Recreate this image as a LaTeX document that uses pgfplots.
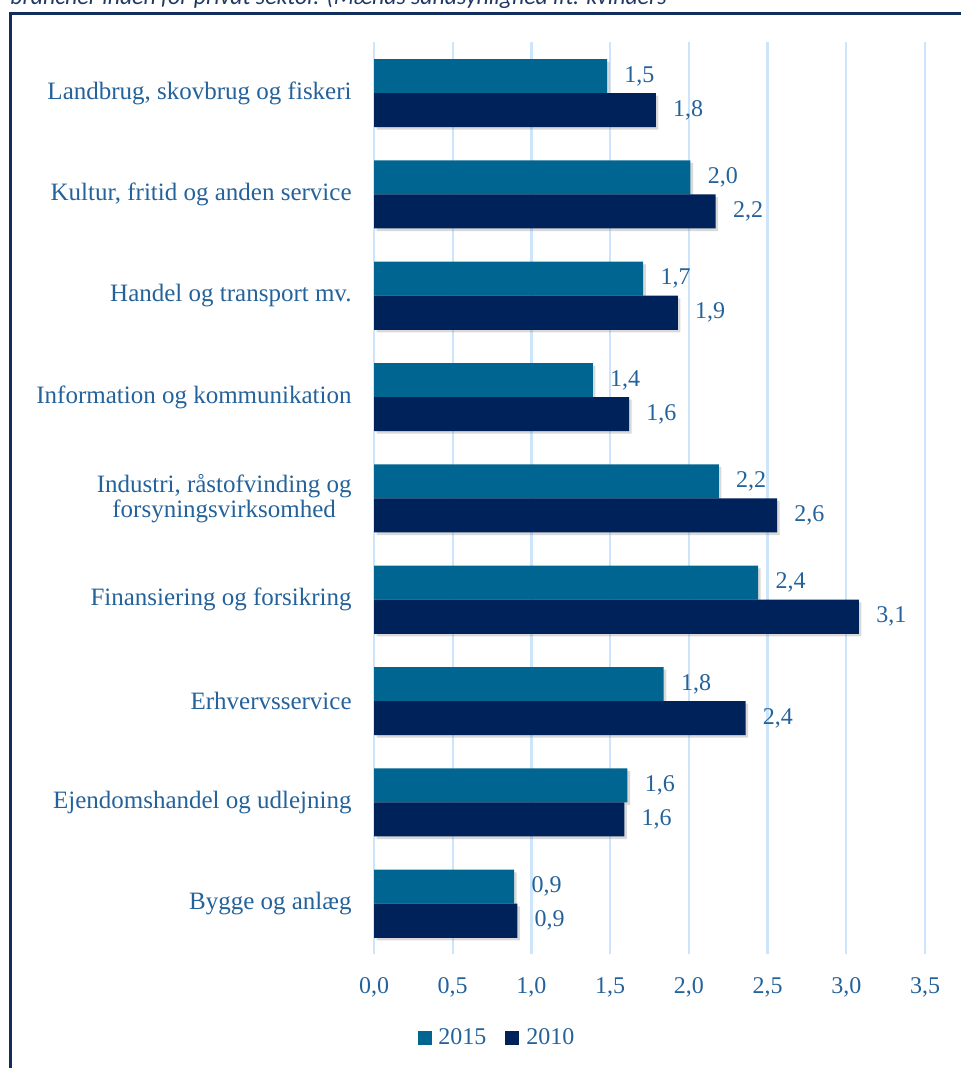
\documentclass[border=0pt]{standalone}
\usepackage{fontspec}
\setmainfont{Liberation Serif}
\newfontfamily\capfont{Carlito}
\usepackage{pgfplots}
\pgfplotsset{compat=1.18}
\usetikzlibrary{shadows}
\definecolor{tealc}{RGB}{0,102,145}
\definecolor{navyc}{RGB}{0,34,90}
\definecolor{txt}{RGB}{36,98,155}
\definecolor{gridc}{RGB}{204,229,250}
\definecolor{framec}{RGB}{16,45,92}
\definecolor{capc}{RGB}{31,56,100}
\begin{document}
\begin{tikzpicture}
\useasboundingbox (0,0) rectangle (480.5pt,534pt);
\clip (0,0) rectangle (480.5pt,534pt);
\node[anchor=base west, inner sep=0pt, font=\capfont\itshape\fontsize{11.9}{13}\selectfont, text=capc] at (5pt,531.5pt) {brancher inden for privat sektor. (Mænds sandsynlighed ift. kvinders};
\draw[framec, line width=1.1pt] (5.25pt,-5pt) -- (5.25pt,527.25pt) -- (490pt,527.25pt);
\begin{axis}[
  at={(187pt,56.8pt)}, anchor=south west,
  scale only axis, width=275.5pt, height=456pt,
  xbar, bar width=0.336,
  xmin=0, xmax=3.5, ymin=-0.5, ymax=8.5,
  xtick={0,0.5,1,1.5,2,2.5,3,3.5},
  ytick={0,1,2,3,4,5,6,7,8},
  yticklabels={Bygge og anlæg, Ejendomshandel og udlejning, Erhvervsservice, Finansiering og forsikring, {Industri, råstofvinding og\\forsyningsvirksomhed}, Information og kommunikation, Handel og transport mv., {Kultur, fritid og anden service}, {Landbrug, skovbrug og fiskeri}},
  xticklabel style={/pgf/number format/fixed, /pgf/number format/fixed zerofill, /pgf/number format/precision=1, /pgf/number format/use comma, /pgf/number format/assume math mode=true, anchor=north, inner sep=0pt, yshift=-11.3pt, font=\fontsize{12}{12}\selectfont, text=txt},
  yticklabel style={anchor=east, inner sep=0pt, xshift=-11pt, align=center, font=\fontsize{12.5}{12.5}\selectfont, text=txt},
  major tick length=0pt,
  axis line style={draw=none},
  tick style={draw=none},
  xmajorgrids, major grid style={gridc, line width=1.2pt},
  point meta=x,
  nodes near coords={\pgfmathprintnumber[fixed,fixed zerofill,precision=1,use comma,assume math mode=true]{\pgfplotspointmeta}},
  every node near coord/.append style={font=\fontsize{12}{12}\selectfont, text=txt, anchor=west, inner sep=0pt, xshift=8.5pt},
  legend style={at={(0.2214,-0.0917)}, anchor=center, draw=none, fill=none, legend columns=2, font=\fontsize{12}{12}\selectfont, text=txt, nodes={inner sep=0pt}, /tikz/every odd column/.append style={column sep=3.5pt}, /tikz/every even column/.append style={column sep=9.5pt}},
]
\addplot[forget plot, draw=none, fill=tealc, bar shift=0.168, drop shadow={shadow xshift=1.3pt, shadow yshift=-1.3pt, opacity=0.3}] coordinates {
(0.89,0) (1.61,1) (1.84,2) (2.44,3) (2.19,4) (1.39,5) (1.71,6) (2.01,7) (1.48,8)};
\addplot[forget plot, draw=none, fill=navyc, bar shift=-0.168, drop shadow={shadow xshift=1.3pt, shadow yshift=-1.3pt, opacity=0.3}] coordinates {
(0.91,0) (1.59,1) (2.36,2) (3.08,3) (2.56,4) (1.62,5) (1.93,6) (2.17,7) (1.79,8)};
\addlegendimage{legend image code/.code={\fill[tealc] (0pt,-3.25pt) rectangle (6.5pt,3.25pt);}}
\addlegendentry{2015}
\addlegendimage{legend image code/.code={\fill[navyc] (0pt,-3.25pt) rectangle (6.5pt,3.25pt);}}
\addlegendentry{2010}
\end{axis}
\end{tikzpicture}
\end{document}
